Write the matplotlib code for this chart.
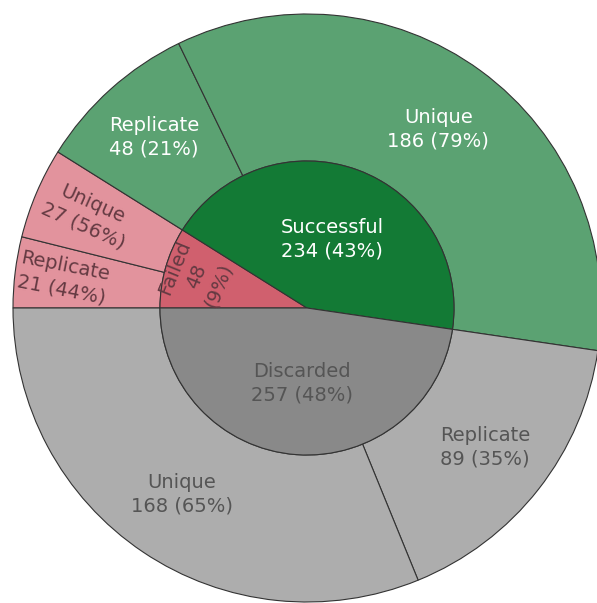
import numpy as np
import matplotlib.pyplot as plt

# outcome groups (inner ring)
groups = ["Failed", "Successful", "Discarded"]
group_counts = [48, 234, 257]

# breakdown of each group (outer ring), same order as groups
sub_labels = ["Replicate", "Unique", "Replicate", "Unique", "Replicate", "Unique"]
sub_counts = [21, 27, 48, 186, 89, 168]
sub_parent = [0, 0, 1, 1, 2, 2]

inner_colors = ["#d0606e", "#137a35", "#898989"]
outer_colors = ["#e2939d", "#e2939d", "#5ba272", "#5ba272", "#adadad", "#adadad"]
inner_text = ["#643a42", "white", "#555555"]
outer_text = ["#643a42", "#643a42", "white", "white", "#555555", "#555555"]

W, H = 597, 603
cx, cy, R = 307, 308, 294

fig = plt.figure(figsize=(W / 100, H / 100), dpi=100)
ax = fig.add_axes([(cx - R) / W, (H - cy - R) / H, 2 * R / W, 2 * R / H])

edge = dict(edgecolor="#333333", linewidth=0.8)
outer, _ = ax.pie(sub_counts, radius=1.0, colors=outer_colors, startangle=180,
                  counterclock=False, wedgeprops=dict(width=0.5, **edge))
inner, _ = ax.pie(group_counts, radius=0.5, colors=inner_colors, startangle=180,
                  counterclock=False, wedgeprops=edge)
for w in outer + inner:
    w.set_clip_on(False)

# pie() resets the limits, so set them afterwards
ax.set_xlim(-1, 1)
ax.set_ylim(-1, 1)
ax.set_aspect("equal")
ax.axis("off")

total = sum(group_counts)

def mid_angle(w):
    return np.deg2rad((w.theta1 + w.theta2) / 2)

# inner labels; the thin failed slice gets one word per line
inner_r = [0.39, 0.25, 0.255]
inner_rot = [68, 0, 0]
for i, w in enumerate(inner):
    a = mid_angle(w)
    pct = round(100 * group_counts[i] / total)
    sep = "\n" if i == 0 else " "
    ax.text(inner_r[i] * np.cos(a), inner_r[i] * np.sin(a),
            f"{groups[i]}\n{group_counts[i]}{sep}({pct}%)", ha="center", va="center",
            fontsize=14, color=inner_text[i], rotation=inner_rot[i],
            rotation_mode="anchor", linespacing=1.3, multialignment="center")

# outer labels
outer_r = [0.835, 0.81, 0.78, 0.755, 0.77, 0.765]
outer_rot = [-11, -24, 0, 0, 0, 0]
for i, w in enumerate(outer):
    a = mid_angle(w)
    pct = round(100 * sub_counts[i] / group_counts[sub_parent[i]])
    ax.text(outer_r[i] * np.cos(a), outer_r[i] * np.sin(a),
            f"{sub_labels[i]}\n{sub_counts[i]} ({pct}%)", ha="center", va="center",
            fontsize=14, color=outer_text[i], rotation=outer_rot[i],
            rotation_mode="anchor", linespacing=1.3)

fig.savefig("out.png", dpi=100)
